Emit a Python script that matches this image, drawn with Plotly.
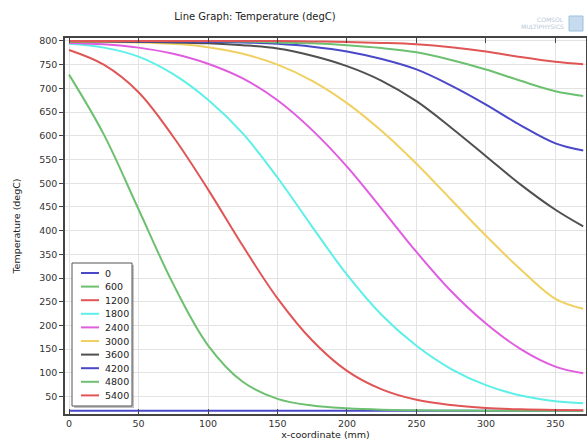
import plotly.graph_objects as go

# ---------------- data ----------------
x_mm = [0, 25, 50, 75, 100, 125, 150, 175, 200, 225, 250, 275, 300, 325, 350, 370]
times = ["0", "600", "1200", "1800", "2400", "3000", "3600", "4200", "4800", "5400"]

T_0    = [20, 20, 20, 20, 20, 20, 20, 20, 20, 20, 20, 20, 20, 20, 20, 20]
T_600  = [729, 603, 445, 287, 158, 81, 45, 31, 25, 22, 21, 20.5, 20, 20, 20, 20]
T_1200 = [781, 750, 692, 598, 487, 368, 257, 168, 104, 65, 43, 32, 26, 23, 21.5, 21]
T_1800 = [794, 786, 767, 730, 676, 605, 512, 408, 307, 222, 157, 108, 74, 52, 40, 36]
T_2400 = [796, 793, 786, 773, 752, 721, 675, 612, 535, 446, 355, 272, 204, 150, 113, 99]
T_3000 = [798, 798, 797, 794, 787, 773, 750, 716, 669, 610, 541, 465, 389, 318, 256, 235]
T_3600 = [799, 799, 798, 797, 795, 791, 784, 769, 747, 716, 673, 617, 557, 497, 444, 409]
T_4200 = [800, 800, 799, 799, 798, 797, 794, 788, 778, 762, 740, 706, 666, 622, 584, 569]
T_4800 = [800, 800, 800, 800, 800, 799, 797, 795, 791, 785, 776, 760, 740, 716, 694, 684]
T_5400 = [800, 800, 800, 800, 800, 800, 800, 799, 798, 796, 793, 787, 778, 766, 756, 751]

series = [T_0, T_600, T_1200, T_1800, T_2400, T_3000, T_3600, T_4200, T_4800, T_5400]

x_ticks = [0, 50, 100, 150, 200, 250, 300, 350]
y_ticks = [50, 100, 150, 200, 250, 300, 350, 400, 450, 500, 550, 600, 650, 700, 750, 800]

# ---------------- style ----------------
palette = ["#4848c8", "#6cc070", "#e05555", "#5cf0e8", "#e05ce0",
           "#f0d060", "#505050", "#4848c8", "#6cc070", "#e05555"]
FONT = "DejaVu Sans"
W, H = 587, 445
ML, MR, MT, MB = 65, 1, 38, 31
PW, PH = W - ML - MR, H - MT - MB


def px2paper(px, py):
    return (px - ML) / PW, (H - MB - py) / PH


fig = go.Figure()
for name, vals, col in zip(times, series, palette):
    fig.add_trace(go.Scatter(
        x=x_mm, y=vals, mode="lines", name=name, showlegend=False,
        line=dict(color=col, width=2, shape="spline", smoothing=1.0),
        hoverinfo="skip"))

# ---------------- custom compact legend ----------------
shapes = []
annotations = []
bx0, by0 = px2paper(72, 263)
bx1, by1 = px2paper(132, 406)
sx0, sy0 = px2paper(74, 265)
sx1, sy1 = px2paper(134, 408)
shapes.append(dict(type="rect", xref="paper", yref="paper", x0=sx0, x1=sx1, y0=sy1, y1=sy0,
                   line=dict(width=0), fillcolor="rgba(120,120,120,0.45)", layer="above"))
shapes.append(dict(type="rect", xref="paper", yref="paper", x0=bx0, x1=bx1, y0=by1, y1=by0,
                   line=dict(color="#555555", width=1), fillcolor="white", layer="above"))
for i, (name, col) in enumerate(zip(times, palette)):
    cy = 273 + i * 13.6
    lx0, ly = px2paper(81, cy)
    lx1, _ = px2paper(99, cy)
    tx, _ = px2paper(103, cy)
    shapes.append(dict(type="line", xref="paper", yref="paper", x0=lx0, x1=lx1, y0=ly, y1=ly,
                       line=dict(color=col, width=2), layer="above"))
    annotations.append(dict(xref="paper", yref="paper", x=tx, y=ly, text=name, showarrow=False,
                            xanchor="left", yanchor="middle",
                            font=dict(family=FONT, size=9.5, color="#222222")))

# ---------------- logo ----------------
annotations.append(dict(xref="paper", yref="paper", x=px2paper(566, 0)[0], y=px2paper(0, 19)[1],
                        text="COMSOL", showarrow=False, xanchor="right", yanchor="middle",
                        font=dict(family=FONT, size=6, color="#b8c8d8")))
annotations.append(dict(xref="paper", yref="paper", x=px2paper(566, 0)[0], y=px2paper(0, 26)[1],
                        text="MULTIPHYSICS", showarrow=False, xanchor="right", yanchor="middle",
                        font=dict(family=FONT, size=6, color="#b8c8d8")))
lgx0, lgy0 = px2paper(569, 16)
lgx1, lgy1 = px2paper(583, 31)
shapes.append(dict(type="rect", xref="paper", yref="paper", x0=lgx0, x1=lgx1, y0=lgy1, y1=lgy0,
                   line=dict(color="#9fc0dc", width=1), fillcolor="#c6dcee", layer="above"))

fig.update_layout(
    width=W, height=H,
    margin=dict(l=ML, r=MR, t=MT, b=MB, autoexpand=False),
    paper_bgcolor="white", plot_bgcolor="white",
    font=dict(family=FONT, size=9.5, color="#333333"),
    title=dict(text="Line Graph: Temperature (degC)", xref="container", yref="container",
               x=255 / W, y=1 - 16 / H, xanchor="center", yanchor="middle",
               font=dict(family=FONT, size=10, color="#222222")),
    shapes=shapes, annotations=annotations,
    showlegend=False,
)
fig.update_xaxes(
    range=[-2.9, 372], tickvals=x_ticks, ticktext=[str(v) for v in x_ticks],
    showgrid=True, gridcolor="#e3e3e3", gridwidth=1, zeroline=False,
    showline=True, linecolor="#444444", linewidth=1.5, mirror="ticks",
    ticks="inside", ticklen=5, tickcolor="#444444", automargin=False,
    tickfont=dict(family=FONT, size=9.5, color="#333333"),
    title=dict(text="x-coordinate (mm)", standoff=3, font=dict(family=FONT, size=9.5, color="#222222")),
)
fig.update_yaxes(
    range=[13.1, 806.3], tickvals=y_ticks, ticktext=[str(v) for v in y_ticks],
    showgrid=True, gridcolor="#e3e3e3", gridwidth=1, zeroline=False,
    showline=True, linecolor="#444444", linewidth=1.5, mirror="ticks",
    ticks="outside", ticklen=4, tickcolor="#444444", automargin=False,
    tickfont=dict(family=FONT, size=9.5, color="#333333"),
    title=dict(text="Temperature (degC)", standoff=17, font=dict(family=FONT, size=9.5, color="#222222")),
)

fig.write_html("out.html", config={"displayModeBar": False},
               post_script="document.body.style.margin='0';document.body.style.padding='0';")
